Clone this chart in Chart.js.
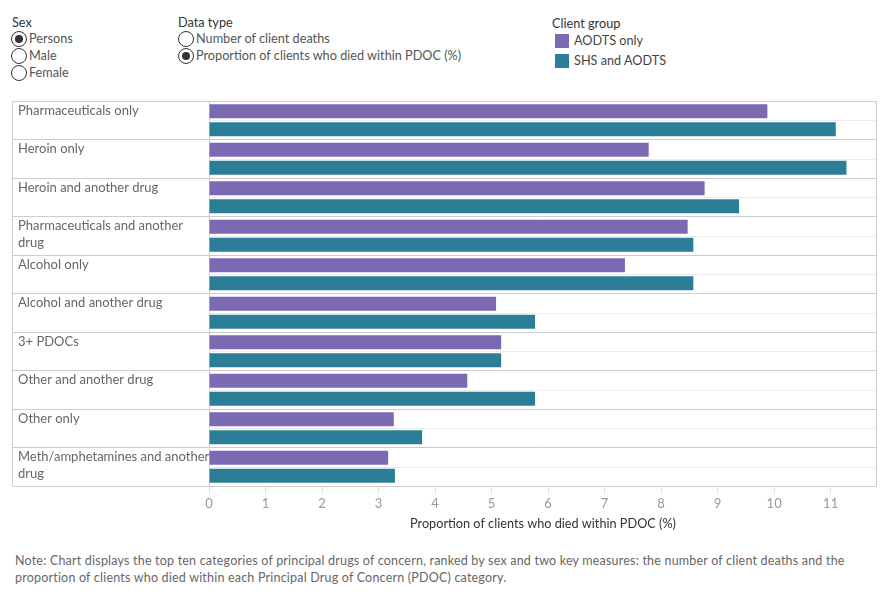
<!DOCTYPE html>
<html>
<head>
<meta charset="utf-8">
<script src="https://cdn.jsdelivr.net/npm/chart.js@4.4.1/dist/chart.umd.min.js"></script>
<style>
  body { margin: 0; background: #fff; font-family: Lato, "Open Sans", sans-serif; color: #333; }
  #wrap { position: relative; width: 890px; height: 600px; overflow: hidden; }
  .hdr { position: absolute; font-size: 12.7px; color: #333; }
  .opt { position: absolute; font-size: 12.7px; color: #555; line-height: 17px; white-space: nowrap; }
  .radio { display: inline-block; width: 14px; height: 14px; border: 1.3px solid #333; border-radius: 50%;
           vertical-align: -4px; margin-right: 2px; position: relative; background: #fff; }
  .radio.on::after { content: ''; position: absolute; left: 3px; top: 3px; width: 8px; height: 8px;
           border-radius: 50%; background: #333; }
  .sw { display: inline-block; width: 14px; height: 14px; vertical-align: -3px; margin-right: 5px; }
  #note { position: absolute; left: 15px; top: 552px; font-size: 12.5px; letter-spacing: 0.2px; color: #666; line-height: 17px; width: 840px; }
  canvas { position: absolute; left: 0; top: 0; }
</style>
</head>
<body>
<div id="wrap">
  <div class="hdr" style="left:12px;top:14px">Sex</div>
  <div class="opt" style="left:11px;top:30px"><span class="radio on"></span>Persons</div>
  <div class="opt" style="left:11px;top:47px"><span class="radio"></span>Male</div>
  <div class="opt" style="left:11px;top:64px"><span class="radio"></span>Female</div>

  <div class="hdr" style="left:178px;top:14px">Data type</div>
  <div class="opt" style="left:178px;top:30px"><span class="radio"></span>Number of client deaths</div>
  <div class="opt" style="left:178px;top:47px"><span class="radio on"></span>Proportion of clients who died within PDOC (%)</div>

  <div class="hdr" style="left:552px;top:15px">Client group</div>
  <div id="legend"></div>

  <div style="position:absolute;left:0;top:0;width:890px;height:545px">
    <canvas id="chart" width="890" height="545"></canvas>
  </div>

  <div id="note">Note: Chart displays the top ten categories of principal drugs of concern, ranked by sex and two key measures: the number of client deaths and the proportion of clients who died within each Principal Drug of Concern (PDOC) category.</div>
</div>

<script>
const categories = [
  'Pharmaceuticals only',
  'Heroin only',
  'Heroin and another drug',
  ['Pharmaceuticals and another', 'drug'],
  'Alcohol only',
  'Alcohol and another drug',
  '3+ PDOCs',
  'Other and another drug',
  'Other only',
  ['Meth/amphetamines and another', 'drug']
];
const seriesNames = ['AODTS only', 'SHS and AODTS'];
const aodtsOnly = [9.88, 7.78, 8.77, 8.47, 7.36, 5.08, 5.17, 4.57, 3.27, 3.17];
const shsAodts = [11.09, 11.28, 9.38, 8.57, 8.57, 5.77, 5.17, 5.77, 3.77, 3.29];
const seriesColors = ['#7b69b4', '#2c7e98'];
const axisTitle = 'Proportion of clients who died within PDOC (%)';

const FONT = 'Lato, "Open Sans", sans-serif';

// legend (html)
const legend = document.getElementById('legend');
seriesNames.forEach((name, i) => {
  const d = document.createElement('div');
  d.className = 'opt';
  d.style.left = '555px';
  d.style.top = (32 + i * 20) + 'px';
  d.style.color = '#444';
  d.innerHTML = `<span class="sw" style="background:${seriesColors[i]}"></span>${name}`;
  legend.appendChild(d);
});

// category labels at the top of each row, plus the light line between the two bars and the frame
const rowLabels = {
  id: 'rowLabels',
  beforeDatasetsDraw(chart) {
    const { ctx, chartArea } = chart;
    const y = chart.scales.y;
    ctx.save();
    ctx.strokeStyle = '#ececec';
    ctx.lineWidth = 1;
    categories.forEach((c, i) => {
      const py = Math.round(y.getPixelForValue(i)) + 0.5;
      ctx.beginPath();
      ctx.moveTo(chartArea.left, py);
      ctx.lineTo(chartArea.right, py);
      ctx.stroke();
    });
    ctx.restore();
  },
  afterDraw(chart) {
    const { ctx, chartArea } = chart;
    const y = chart.scales.y;
    const rowH = (chartArea.bottom - chartArea.top) / categories.length;
    ctx.save();
    ctx.font = '13px ' + FONT;
    ctx.fillStyle = '#666';
    ctx.textBaseline = 'top';
    categories.forEach((c, i) => {
      const top = y.getPixelForValue(i) - rowH / 2;
      const lines = Array.isArray(c) ? c : [c];
      lines.forEach((ln, j) => ctx.fillText(ln, 18, top + 3 + j * 17));
    });
    ctx.strokeStyle = '#cccccc';
    ctx.beginPath();
    ctx.moveTo(12.5, chartArea.top);
    ctx.lineTo(12.5, chartArea.bottom);
    ctx.moveTo(chartArea.right - 0.5, chartArea.top);
    ctx.lineTo(chartArea.right - 0.5, chartArea.bottom);
    ctx.stroke();
    ctx.restore();
  }
};

new Chart(document.getElementById('chart'), {
  type: 'bar',
  data: {
    labels: categories,
    datasets: [
      { label: seriesNames[0], data: aodtsOnly, backgroundColor: seriesColors[0] },
      { label: seriesNames[1], data: shsAodts, backgroundColor: seriesColors[1] }
    ]
  },
  options: {
    indexAxis: 'y',
    responsive: false,
    animation: false,
    categoryPercentage: 0.935,
    barPercentage: 0.78,
    layout: { padding: { top: 101, left: 12, right: 13, bottom: 0 } },
    plugins: { legend: { display: false }, tooltip: { enabled: false } },
    scales: {
      x: {
        min: 0,
        max: 11.82,
        ticks: {
          stepSize: 1,
          includeBounds: false,
          color: '#999',
          padding: 2,
          font: { family: FONT, size: 13 }
        },
        grid: { drawOnChartArea: false, drawTicks: true, tickLength: 8, color: '#e3e3e3' },
        border: { display: false },
        title: {
          display: true,
          text: axisTitle,
          color: '#333',
          font: { family: FONT, size: 12.7 },
          padding: { top: 4, bottom: 13 }
        },
        afterFit(scale) { scale.height = 59; }
      },
      y: {
        type: 'category',
        offset: true,
        ticks: { display: false },
        grid: { offset: true, color: '#cccccc', tickLength: 196, drawTicks: true },
        border: { display: true, color: '#cccccc' },
        afterFit(scale) { scale.width = 197; }
      }
    }
  },
  plugins: [rowLabels]
});
</script>
</body>
</html>
